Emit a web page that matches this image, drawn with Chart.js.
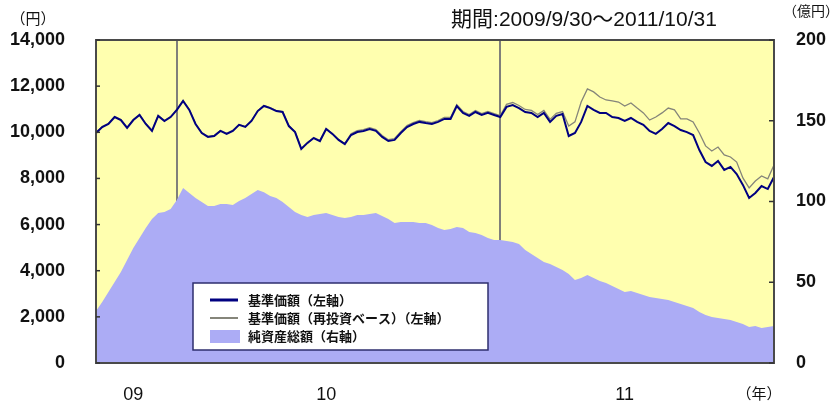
<!DOCTYPE html>
<html>
<head>
<meta charset="utf-8">
<script src="https://cdn.jsdelivr.net/npm/chart.js@4/dist/chart.umd.min.js"></script>
<style>
html, body { margin: 0; padding: 0; background: #fff; }
#wrap { width: 840px; height: 406px; }
</style>
</head>
<body>
<div id="wrap"><canvas id="chart" width="840" height="406"></canvas></div>
<script>
// weekly dates 2009/9/30 .. 2011/10/31
const dates = []
for (let k = 0; k < 109; k++) {
  const d = new Date(2009, 8, 30 + 7 * k)
  dates.push(d.getFullYear() + '/' + (d.getMonth() + 1) + '/' + d.getDate())
}
dates.push('2011/10/31')

// 基準価額 (円)
const nav = [9970,10230,10360,10660,10530,10190,10530,10750,10360,10060,
  10710,10490,10660,10970,11360,10970,10360,9970,9800,9840,
  10060,9930,10060,10320,10230,10490,10920,11140,11050,10920,
  10880,10270,10010,9280,9540,9750,9620,10140,9930,9670,
  9490,9880,10010,10060,10140,10060,9800,9620,9670,9970,
  10230,10360,10450,10400,10360,10450,10580,10580,11140,10840,
  10710,10880,10750,10840,10750,10660,11100,11180,11050,10880,
  10840,10660,10840,10450,10710,10790,9840,9970,10450,11140,
  10970,10840,10840,10660,10620,10490,10620,10450,10320,10060,
  9930,10140,10400,10270,10100,10010,9880,9230,8710,8540,
  8760,8370,8500,8190,7720,7150,7370,7670,7540,8060]

// 基準価額 再投資ベース (円)
const navReinv = [9990,10250,10380,10680,10550,10210,10550,10770,10380,10080,
  10730,10510,10680,10990,11380,10990,10380,9990,9820,9860,
  10080,9950,10080,10340,10250,10510,10940,11160,11070,10940,
  10900,10290,10030,9300,9560,9770,9640,10160,9950,9690,
  9510,9940,10070,10120,10200,10120,9860,9680,9730,10030,
  10290,10420,10510,10460,10420,10510,10640,10640,11200,10900,
  10770,10940,10810,10900,10810,10720,11210,11290,11160,10990,
  10950,10770,10950,10560,10820,10900,10270,10450,11310,11880,
  11750,11530,11400,11360,11310,11140,11270,11050,10840,10530,
  10660,10840,11050,10970,10580,10580,10450,9970,9410,9190,
  9360,9020,8930,8710,8020,7590,7890,8110,7980,8580]

// 純資産総額 (億円)
const assets = [32.2,37.8,43.9,50.1,56.3,63.8,71.2,77.4,83.6,89.1,
  92.9,93.5,95.3,100.9,108.3,105.2,102.1,99.7,97.2,97.2,
  98.4,98.4,97.8,100.3,102.1,104.6,107.1,105.8,103.4,102.1,
  99.7,96.6,93.5,91.6,90.4,91.6,92.2,92.9,91.6,90.4,
  89.8,90.4,91.6,91.6,92.2,92.9,91.0,89.1,86.7,87.3,
  87.3,87.3,86.7,86.7,85.4,83.6,82.3,82.9,84.2,83.6,
  81.1,80.5,79.2,77.4,76.1,76.1,75.5,74.9,73.7,69.9,
  67.5,65.0,62.5,61.3,59.4,57.6,55.1,51.4,52.6,54.5,
  52.6,50.8,49.5,47.7,45.8,43.9,44.6,43.3,42.1,40.9,
  40.2,39.6,39.0,37.8,36.5,35.3,34.0,31.6,29.7,28.5,
  27.9,27.2,26.6,25.4,24.1,22.3,22.9,21.7,22.3,22.9]

const seriesNames = ['基準価額（左軸）', '基準価額（再投資ベース）（左軸）', '純資産総額（右軸）']
const yearLabels = {6: '09', 37: '10', 85: '11'}
const yearLines = [13, 65]
const periodText = '期間:2009/9/30～2011/10/31'

const NUM_FONT = "'Liberation Sans', Arial, sans-serif"
const JP_FONT = "'Noto Sans CJK JP', sans-serif"

const decor = {
  id: 'decor',
  beforeDraw(c) {
    const ctx = c.ctx, a = c.chartArea
    ctx.save()
    ctx.fillStyle = '#fff'
    ctx.fillRect(0, 0, c.width, c.height)
    ctx.fillStyle = 'rgb(255,255,175)'
    ctx.fillRect(a.left, a.top, a.right - a.left, a.bottom - a.top)
    ctx.restore()
  },
  afterDraw(c) {
    const ctx = c.ctx, a = c.chartArea
    ctx.save()
    // frame
    ctx.strokeStyle = '#4a4a4a'
    ctx.lineWidth = 2
    ctx.strokeRect(a.left, a.top, a.right - a.left, a.bottom - a.top)
    // inner tick marks
    ctx.lineWidth = 1.5
    ctx.strokeStyle = '#333'
    c.scales.y.ticks.forEach(t => {
      const y = c.scales.y.getPixelForValue(t.value)
      ctx.beginPath(); ctx.moveTo(a.left, y); ctx.lineTo(a.left + 4, y); ctx.stroke()
    })
    c.scales.y2.ticks.forEach(t => {
      const y = c.scales.y2.getPixelForValue(t.value)
      ctx.beginPath(); ctx.moveTo(a.right - 5, y); ctx.lineTo(a.right, y); ctx.stroke()
    })
    // texts
    ctx.fillStyle = '#111'
    ctx.textAlign = 'center'
    ctx.textBaseline = 'middle'
    ctx.font = '15px ' + JP_FONT
    ctx.fillText('（円）', 33, 18)
    ctx.fillText('（年）', 759, 393)
    ctx.font = '14px ' + JP_FONT
    ctx.fillText('（億円）', 811, 11)
    ctx.font = "21px 'Liberation Sans', 'Noto Sans CJK JP', sans-serif"
    ctx.fillText(periodText, 584, 20)
    // legend
    const lx = 193, ly = 283, lw = 295, lh = 67
    ctx.fillStyle = '#fff'
    ctx.fillRect(lx, ly, lw, lh)
    ctx.strokeStyle = '#2e2e6e'
    ctx.lineWidth = 1.5
    ctx.strokeRect(lx, ly, lw, lh)
    const ds = c.data.datasets
    ctx.textAlign = 'left'
    ctx.font = 'bold 13px ' + JP_FONT
    for (let i = 0; i < 3; i++) {
      const ry = ly + 17 + i * 18
      if (i < 2) {
        ctx.strokeStyle = ds[i].borderColor
        ctx.lineWidth = i === 0 ? 3 : 2
        ctx.beginPath(); ctx.moveTo(210, ry); ctx.lineTo(238, ry); ctx.stroke()
      } else {
        ctx.fillStyle = ds[i].backgroundColor
        ctx.fillRect(210, ry - 6, 30, 13)
      }
      ctx.fillStyle = '#111'
      ctx.fillText(ds[i].label, 248, ry)
    }
    ctx.restore()
  }
}

let chart = new Chart(document.querySelector('#chart'), {
  type: 'line',
  data: {
    labels: dates,
    datasets: [
      { label: seriesNames[0], data: nav, yAxisID: 'y', borderColor: '#000080', borderWidth: 2, pointRadius: 0, tension: 0 },
      { label: seriesNames[1], data: navReinv, yAxisID: 'y', borderColor: '#85857a', borderWidth: 1.3, pointRadius: 0, tension: 0 },
      { label: seriesNames[2], data: assets, yAxisID: 'y2', borderWidth: 0, borderColor: 'rgba(0,0,0,0)', backgroundColor: 'rgb(172,172,245)', fill: 'origin', pointRadius: 0, tension: 0 }
    ]
  },
  options: {
    responsive: false,
    animation: false,
    layout: { padding: { top: 40, left: 0, right: 0, bottom: 0 } },
    plugins: { legend: { display: false }, tooltip: { enabled: false } },
    scales: {
      x: {
        z: 1,
        border: { display: false },
        grid: {
          drawTicks: false,
          lineWidth: 2,
          color: ctx => yearLines.includes(ctx.index) ? '#80807a' : 'rgba(0,0,0,0)'
        },
        ticks: {
          autoSkip: false, maxRotation: 0, padding: 21,
          color: '#111', font: { family: NUM_FONT, size: 18 },
          callback: (v, i) => yearLabels[i] || ''
        },
        afterFit: s => { s.height = 43 }
      },
      y: {
        position: 'left', min: 0, max: 14000,
        border: { display: false },
        grid: { display: false },
        ticks: {
          stepSize: 2000, padding: 23, color: '#111',
          font: { family: NUM_FONT, size: 18, weight: 'bold' },
          callback: v => v.toLocaleString('en-US')
        },
        afterFit: s => { s.width = 96 }
      },
      y2: {
        position: 'right', min: 0, max: 200,
        border: { display: false },
        grid: { display: false },
        ticks: {
          stepSize: 50, padding: 14, color: '#111',
          font: { family: NUM_FONT, size: 18, weight: 'bold' }
        },
        afterFit: s => { s.width = 66 }
      }
    }
  },
  plugins: [decor]
})
</script>
</body>
</html>
